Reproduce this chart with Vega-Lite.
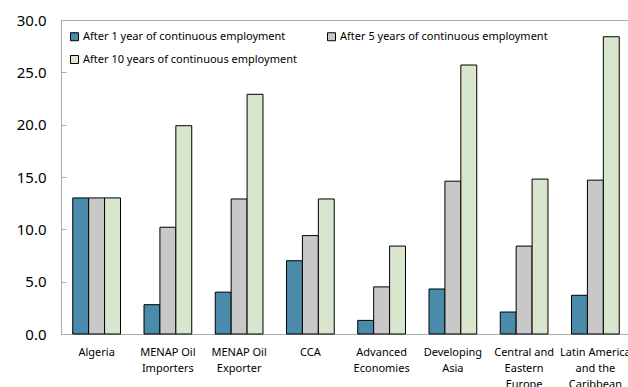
{
  "$schema": "https://vega.github.io/schema/vega-lite/v6.json",
  "width": 570,
  "height": 314,
  "autosize": "none",
  "padding": {"left": 61, "top": 20, "right": 0, "bottom": 53},
  "background": "white",
  "config": {
    "font": "Noto Sans",
    "view": {"stroke": "#ABABAB", "strokeWidth": 1}
  },
  "data": {
    "values": [
      {"region": "Algeria", "period": "After 1 year of continuous employment", "value": 13.0},
      {"region": "Algeria", "period": "After 5 years of continuous employment", "value": 13.0},
      {"region": "Algeria", "period": "After 10 years of continuous employment", "value": 13.0},
      {"region": "MENAP Oil Importers", "period": "After 1 year of continuous employment", "value": 2.8},
      {"region": "MENAP Oil Importers", "period": "After 5 years of continuous employment", "value": 10.2},
      {"region": "MENAP Oil Importers", "period": "After 10 years of continuous employment", "value": 19.9},
      {"region": "MENAP Oil Exporter", "period": "After 1 year of continuous employment", "value": 4.0},
      {"region": "MENAP Oil Exporter", "period": "After 5 years of continuous employment", "value": 12.9},
      {"region": "MENAP Oil Exporter", "period": "After 10 years of continuous employment", "value": 22.9},
      {"region": "CCA", "period": "After 1 year of continuous employment", "value": 7.0},
      {"region": "CCA", "period": "After 5 years of continuous employment", "value": 9.4},
      {"region": "CCA", "period": "After 10 years of continuous employment", "value": 12.9},
      {"region": "Advanced Economies", "period": "After 1 year of continuous employment", "value": 1.3},
      {"region": "Advanced Economies", "period": "After 5 years of continuous employment", "value": 4.5},
      {"region": "Advanced Economies", "period": "After 10 years of continuous employment", "value": 8.4},
      {"region": "Developing Asia", "period": "After 1 year of continuous employment", "value": 4.3},
      {"region": "Developing Asia", "period": "After 5 years of continuous employment", "value": 14.6},
      {"region": "Developing Asia", "period": "After 10 years of continuous employment", "value": 25.7},
      {"region": "Central and Eastern Europe", "period": "After 1 year of continuous employment", "value": 2.1},
      {"region": "Central and Eastern Europe", "period": "After 5 years of continuous employment", "value": 8.4},
      {"region": "Central and Eastern Europe", "period": "After 10 years of continuous employment", "value": 14.8},
      {"region": "Latin America and the Caribbean", "period": "After 1 year of continuous employment", "value": 3.7},
      {"region": "Latin America and the Caribbean", "period": "After 5 years of continuous employment", "value": 14.7},
      {"region": "Latin America and the Caribbean", "period": "After 10 years of continuous employment", "value": 28.4}
    ]
  },
  "mark": {"type": "bar", "stroke": "#000000", "strokeWidth": 1},
  "encoding": {
    "x": {
      "field": "region",
      "type": "nominal",
      "sort": null,
      "scale": {"paddingInner": 0.33, "paddingOuter": 0.165},
      "axis": {
        "title": null,
        "labelAngle": 0,
        "bandPosition": 0,
        "domainColor": "#ABABAB",
        "tickColor": "#ABABAB",
        "tickSize": -4,
        "labelPadding": 16,
        "labelFontSize": 11,
        "labelColor": "#000000",
        "labelLineHeight": 16,
        "labelBaseline": "top",
        "labelExpr": "datum.value == 'MENAP Oil Importers' ? ['MENAP Oil', 'Importers'] : datum.value == 'MENAP Oil Exporter' ? ['MENAP Oil', 'Exporter'] : datum.value == 'Advanced Economies' ? ['Advanced', 'Economies'] : datum.value == 'Developing Asia' ? ['Developing', 'Asia'] : datum.value == 'Central and Eastern Europe' ? ['Central and', 'Eastern', 'Europe'] : datum.value == 'Latin America and the Caribbean' ? ['Latin America', 'and the', 'Caribbean'] : datum.value"
      }
    },
    "xOffset": {
      "field": "period",
      "type": "nominal",
      "sort": ["After 1 year of continuous employment", "After 5 years of continuous employment", "After 10 years of continuous employment"],
      "scale": {"paddingInner": 0, "paddingOuter": 0}
    },
    "y": {
      "field": "value",
      "type": "quantitative",
      "scale": {"domain": [0, 30], "nice": false},
      "axis": {
        "title": null,
        "values": [0, 5, 10, 15, 20, 25, 30],
        "format": ".1f",
        "grid": false,
        "domainColor": "#ABABAB",
        "tickColor": "#ABABAB",
        "tickSize": -5,
        "labelPadding": 20,
        "labelFontSize": 15,
        "labelColor": "#000000"
      }
    },
    "color": {
      "field": "period",
      "type": "nominal",
      "scale": {
        "domain": ["After 1 year of continuous employment", "After 10 years of continuous employment", "After 5 years of continuous employment"],
        "range": ["#4A8AAB", "#D9E6CE", "#C8C8C8"]
      },
      "legend": {
        "title": null,
        "orient": "none",
        "legendX": 8,
        "legendY": 11,
        "columns": 2,
        "columnPadding": 28,
        "rowPadding": 10,
        "symbolType": "square",
        "symbolSize": 64,
        "symbolStrokeColor": "#000000",
        "symbolStrokeWidth": 1,
        "labelFontSize": 11,
        "labelLimit": 400,
        "labelColor": "#000000",
        "labelOffset": 3
      }
    }
  }
}
